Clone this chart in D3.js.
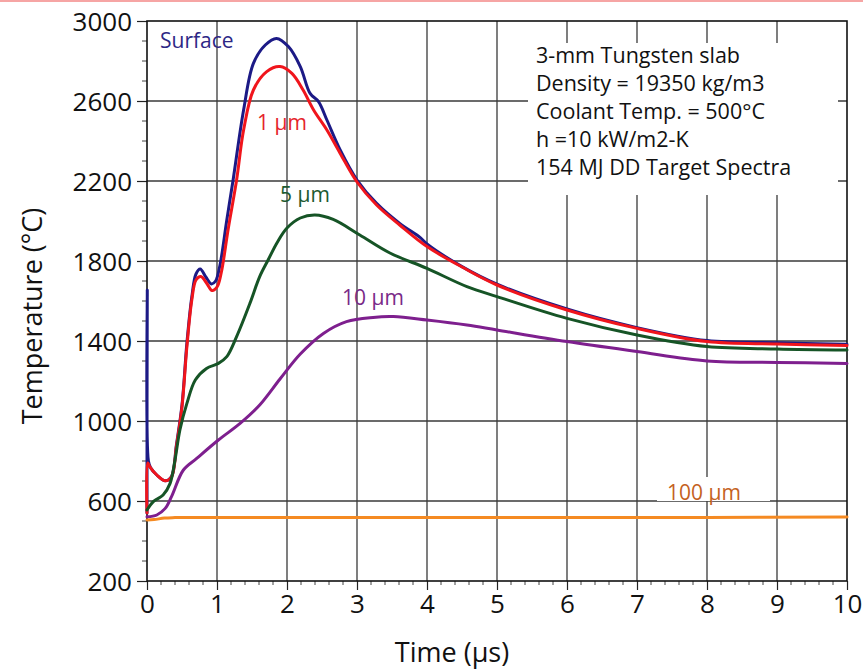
<!DOCTYPE html>
<html><head><meta charset="utf-8">
<script src="https://cdn.jsdelivr.net/npm/d3@7"></script>
<style>body{margin:0;background:#fff}svg{display:block}text{font-family:"Open Sans",sans-serif}</style>
</head><body>
<svg id="c" width="863" height="671"></svg>
<script>
// ---- data ----
const surfaceTime = [0,0.004,0.02,0.05,0.14,0.26,0.35,0.42,0.50,0.57,0.64,0.70,0.76,0.84,0.92,0.98,1.04,1.14,1.23,1.38,1.52,1.69,1.85,2.02,2.19,2.33,2.45,2.57,2.76,3.0,3.28,3.61,3.9,4.0,4.5,5,6,7,8,9,10];
const surfaceTemp = [540,1655,800,768,730,701,722,880,1080,1390,1620,1735,1760,1720,1685,1700,1775,2005,2205,2555,2788,2880,2913,2872,2772,2638,2597,2505,2355,2205,2088,1988,1918,1885,1772,1684,1560,1467,1402,1391,1384];
const um1Time = [0,0.01,0.04,0.14,0.26,0.35,0.42,0.50,0.57,0.64,0.70,0.77,0.85,0.93,1.0,1.06,1.16,1.28,1.38,1.52,1.71,1.9,2.07,2.23,2.38,2.57,2.76,3.0,3.28,3.61,4.0,4.5,5,6,7,8,9,10];
const um1Temp = [540,790,771,730,701,720,872,1072,1372,1605,1705,1722,1690,1652,1670,1740,1960,2205,2455,2655,2747,2772,2738,2655,2555,2455,2338,2195,2080,1980,1872,1770,1680,1555,1463,1397,1385,1377];
const um5Time = [0,0.09,0.23,0.33,0.40,0.47,0.57,0.69,0.85,1.02,1.14,1.28,1.47,1.61,1.73,1.86,2.0,2.19,2.4,2.66,3.04,3.47,4.0,4.57,5.0,6,7,8,9,10];
const um5Temp = [555,597,630,688,805,955,1088,1205,1263,1288,1322,1422,1588,1722,1805,1893,1965,2015,2030,2008,1930,1840,1763,1672,1622,1513,1430,1372,1360,1355];
const um10Time = [0,0.14,0.26,0.35,0.52,0.71,1.02,1.33,1.61,1.9,2.19,2.52,2.85,3.23,3.52,4.0,4.57,5.0,6,7,8,9,10];
const um10Temp = [521,530,563,622,755,813,905,988,1080,1210,1335,1438,1497,1518,1522,1505,1480,1455,1397,1347,1300,1293,1288];
const um100Time = [0,0.1,0.25,0.4,2,5,8,10];
const um100Temp = [505,507,515,517,517,518,518,520];

const xTicks = [0,1,2,3,4,5,6,7,8,9,10];
const yTicks = [200,600,1000,1400,1800,2200,2600,3000];
const seriesNames = ["Surface","1 \u03bcm","5 \u03bcm","10 \u03bcm","100 \u03bcm"];
const noteLines = ["3-mm Tungsten slab","Density = 19350 kg/m3","Coolant Temp. = 500\u00b0C","h =10 kW/m2-K","154 MJ DD Target Spectra"];

// ---- layout ----
const svg = d3.select("#c");
const L=147, R=847, T=21, B=581;
const x = d3.scaleLinear().domain([0,10]).range([L,R]);
const y = d3.scaleLinear().domain([200,3000]).range([B,T]);

svg.append("rect").attr("x",0).attr("y",0).attr("width",863).attr("height",2).attr("fill","#f6a5a4");

const g = svg.append("g");
// grid
g.selectAll(".vg").data(xTicks.slice(1,-1)).join("line")
  .attr("x1",d=>x(d)).attr("x2",d=>x(d)).attr("y1",T).attr("y2",B)
  .attr("stroke","#3a3a3a").attr("stroke-width",1.3);
g.selectAll(".hg").data(yTicks.slice(1,-1)).join("line")
  .attr("x1",L).attr("x2",R).attr("y1",d=>y(d)).attr("y2",d=>y(d))
  .attr("stroke","#3a3a3a").attr("stroke-width",1.3);

// white boxes behind notes
g.append("rect").attr("x",528).attr("y",43).attr("width",310).attr("height",152).attr("fill","#fff");
g.append("rect").attr("x",657).attr("y",477).attr("width",113).attr("height",24).attr("fill","#fff");

// axes
const yAx = d3.axisLeft(y).tickValues(yTicks).tickSize(10).tickFormat(d3.format("d"));
const yAxG = svg.append("g").attr("transform",`translate(${L},0)`).call(yAx);
yAxG.select(".domain").remove();
yAxG.selectAll(".tick line").attr("stroke","#222").attr("stroke-width",1.2);
yAxG.selectAll("text").attr("font-size",26).attr("fill","#111").attr("x",-15).attr("dy","0.36em");
const yMinor = d3.range(200,3001,100).filter(v=>v%400!==200);
svg.append("g").selectAll("line").data(yMinor).join("line")
  .attr("x1",L-5).attr("x2",L).attr("y1",d=>y(d)).attr("y2",d=>y(d)).attr("stroke","#444").attr("stroke-width",1);

const xAx = d3.axisBottom(x).tickValues(xTicks).tickSize(9).tickFormat(d3.format("d"));
const xAxG = svg.append("g").attr("transform",`translate(0,${B})`).call(xAx);
xAxG.select(".domain").remove();
xAxG.selectAll(".tick line").attr("stroke","#222").attr("stroke-width",1.2);
xAxG.selectAll("text").attr("font-size",26).attr("fill","#111").attr("y",14).attr("dy","0.71em");
const xMinor = d3.range(0,50).map(i=>i*0.2).filter(v=>Math.abs(v-Math.round(v))>0.01);
svg.append("g").selectAll("line").data(xMinor).join("line")
  .attr("x1",d=>x(d)).attr("x2",d=>x(d)).attr("y1",B).attr("y2",B+4).attr("stroke","#444").attr("stroke-width",1);

// frame
svg.append("rect").attr("x",L).attr("y",T).attr("width",R-L).attr("height",B-T)
  .attr("fill","none").attr("stroke","#111").attr("stroke-width",1.6);

// lines
const line = d3.line().x(d=>x(d[0])).y(d=>y(d[1])).curve(d3.curveCatmullRom.alpha(0.5));
const series = [
  {t:surfaceTime, v:surfaceTemp, c:"#1c1a86"},
  {t:um1Time, v:um1Temp, c:"#f0151c"},
  {t:um5Time, v:um5Temp, c:"#165426"},
  {t:um10Time, v:um10Temp, c:"#7e1f8e"},
  {t:um100Time, v:um100Temp, c:"#f58a22"}
];
series.forEach(s=>{
  svg.append("path").datum(s.t.map((t,i)=>[t,s.v[i]]))
    .attr("d",line).attr("fill","none").attr("stroke",s.c).attr("stroke-width",3)
    .attr("stroke-linejoin","round").attr("stroke-linecap","round");
});

// series labels
const labels = [
  {i:0, x:160, y:48, c:"#2d2785", a:"start"},
  {i:1, x:257, y:130, c:"#e5242b", a:"start"},
  {i:2, x:280, y:202, c:"#1d5a30", a:"start"},
  {i:3, x:342, y:305, c:"#7a2a88", a:"start"},
  {i:4, x:704, y:500, c:"#c4621e", a:"middle"}
];
labels.forEach(l=>{
  svg.append("text").attr("x",l.x).attr("y",l.y).attr("fill",l.c).attr("font-size",21)
    .attr("text-anchor",l.a).text(seriesNames[l.i]);
});

// notes
svg.append("g").selectAll("text").data(noteLines).join("text")
  .attr("x",536).attr("y",(d,i)=>63+i*28).attr("font-size",21.5).attr("fill","#111").text(d=>d);

// axis titles
svg.append("text").attr("x",452).attr("y",662).attr("text-anchor","middle").attr("font-size",27).attr("fill","#111").text("Time (\u03bcs)");
svg.append("text").attr("transform","translate(42,316) rotate(-90)").attr("text-anchor","middle").attr("font-size",27).attr("fill","#111").text("Temperature (\u00b0C)");
</script>
</body></html>
